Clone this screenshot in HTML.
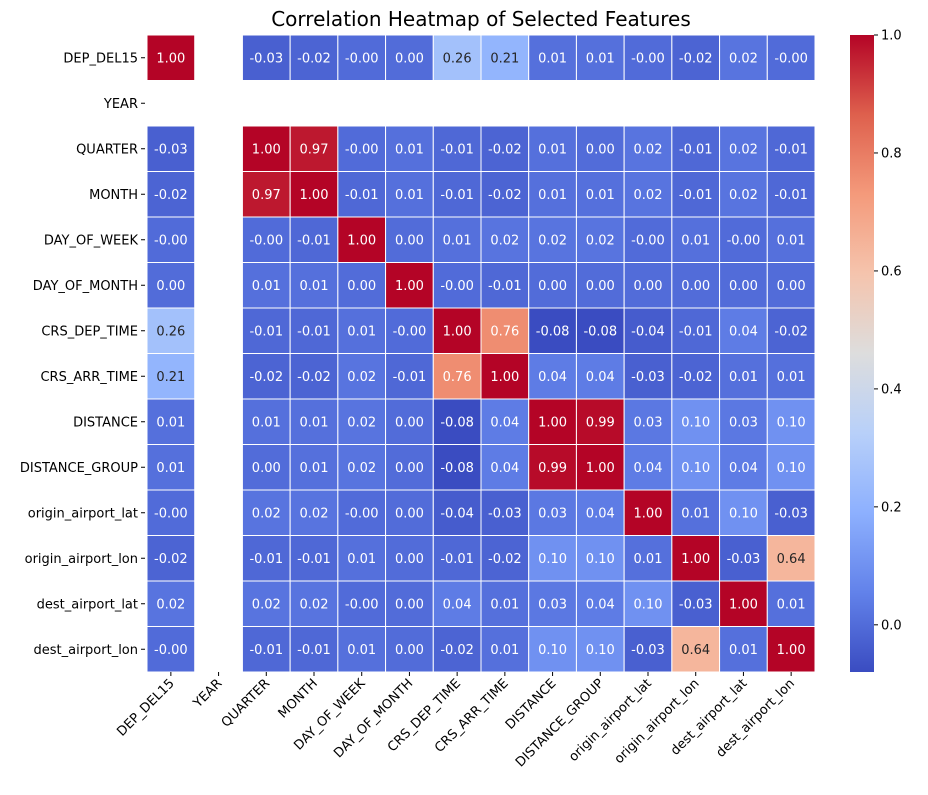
<!DOCTYPE html>
<html><head><meta charset="utf-8"><style>
body{margin:0;background:#fff;font-family:"Liberation Sans","DejaVu Sans",sans-serif;}
svg text{font-family:"DejaVu Sans","Liberation Sans",sans-serif;}
</style></head><body>
<svg id="chart" width="928" height="790" xmlns="http://www.w3.org/2000/svg">
<text x="481" y="26" font-size="20" text-anchor="middle">Correlation Heatmap of Selected Features</text>
<defs><linearGradient id="cg" x1="0" y1="1" x2="0" y2="0">
<stop offset="0" stop-color="rgb(58,76,193)"/><stop offset="0.125" stop-color="rgb(98,130,234)"/><stop offset="0.25" stop-color="rgb(141,176,254)"/><stop offset="0.375" stop-color="rgb(184,208,249)"/><stop offset="0.5" stop-color="rgb(221,221,221)"/><stop offset="0.625" stop-color="rgb(245,196,173)"/><stop offset="0.75" stop-color="rgb(244,154,123)"/><stop offset="0.875" stop-color="rgb(222,96,77)"/><stop offset="1" stop-color="rgb(180,4,38)"/>
</linearGradient></defs>
<g id="cells"></g>
<g id="ylabels"></g>
<g id="xlabels"></g>
<rect x="850" y="35" width="24" height="637" fill="url(#cg)"/>
<g id="cbticks"></g>
</svg>
<script>
const labels=["DEP_DEL15","YEAR","QUARTER","MONTH","DAY_OF_WEEK","DAY_OF_MONTH","CRS_DEP_TIME","CRS_ARR_TIME","DISTANCE","DISTANCE_GROUP","origin_airport_lat","origin_airport_lon","dest_airport_lat","dest_airport_lon"];
const N=null;
const values=[
[1.00,N,-0.03,-0.02,-0.002,0.00,0.26,0.21,0.01,0.01,-0.002,-0.02,0.02,-0.002],
[N,N,N,N,N,N,N,N,N,N,N,N,N,N],
[-0.03,N,1.00,0.97,-0.002,0.01,-0.01,-0.02,0.01,0.00,0.02,-0.01,0.02,-0.01],
[-0.02,N,0.97,1.00,-0.01,0.01,-0.01,-0.02,0.01,0.01,0.02,-0.01,0.02,-0.01],
[-0.002,N,-0.002,-0.01,1.00,0.00,0.01,0.02,0.02,0.02,-0.002,0.01,-0.002,0.01],
[0.00,N,0.01,0.01,0.00,1.00,-0.002,-0.01,0.00,0.00,0.00,0.00,0.00,0.00],
[0.26,N,-0.01,-0.01,0.01,-0.002,1.00,0.76,-0.08,-0.08,-0.04,-0.01,0.04,-0.02],
[0.21,N,-0.02,-0.02,0.02,-0.01,0.76,1.00,0.04,0.04,-0.03,-0.02,0.01,0.01],
[0.01,N,0.01,0.01,0.02,0.00,-0.08,0.04,1.00,0.99,0.03,0.10,0.03,0.10],
[0.01,N,0.00,0.01,0.02,0.00,-0.08,0.04,0.99,1.00,0.04,0.10,0.04,0.10],
[-0.002,N,0.02,0.02,-0.002,0.00,-0.04,-0.03,0.03,0.04,1.00,0.01,0.10,-0.03],
[-0.02,N,-0.01,-0.01,0.01,0.00,-0.01,-0.02,0.10,0.10,0.01,1.00,-0.03,0.64],
[0.02,N,0.02,0.02,-0.002,0.00,0.04,0.01,0.03,0.04,0.10,-0.03,1.00,0.01],
[-0.002,N,-0.01,-0.01,0.01,0.00,-0.02,0.01,0.10,0.10,-0.03,0.64,0.01,1.00]];
const cbTicks=[0.0,0.2,0.4,0.6,0.8,1.0];
const vmin=-0.08,vmax=1.0;
const X0=147,Y0=35,CW=(815-147)/14,CH=(672-35)/14;
const stops=[[0,58,76,193],[.125,98,130,234],[.25,141,176,254],[.375,184,208,249],[.5,221,221,221],[.625,245,196,173],[.75,244,154,123],[.875,222,96,77],[1,180,4,38]];
function cmap(v){let t=Math.max(0,Math.min(1,(v-vmin)/(vmax-vmin)));for(let i=1;i<stops.length;i++){if(t<=stops[i][0]){const a=stops[i-1],b=stops[i],f=(t-a[0])/(b[0]-a[0]);return [0,1,2].map(k=>Math.round(a[k+1]+(b[k+1]-a[k+1])*f));}}return [180,4,38];}
function lin(c){c/=255;return c<=0.03928?c/12.92:Math.pow((c+0.055)/1.055,2.4);}
const ns="http://www.w3.org/2000/svg";
function mk(tag,attrs,parent){const e=document.createElementNS(ns,tag);for(const k in attrs)e.setAttribute(k,attrs[k]);parent.appendChild(e);return e;}
const cells=document.getElementById('cells'),yl=document.getElementById('ylabels'),xl=document.getElementById('xlabels'),cb=document.getElementById('cbticks');
values.forEach((row,r)=>row.forEach((v,c)=>{if(v===null)return;const col=cmap(v);
const rc=mk('rect',{x:X0+c*CW,y:Y0+r*CH,width:CW,height:CH,fill:`rgb(${col})`,stroke:'#fff','stroke-width':1},cells);


const lum=0.2126*lin(col[0])+0.7152*lin(col[1])+0.0722*lin(col[2]);
let s=v.toFixed(2);
const tx=mk('text',{x:X0+(c+.5)*CW,y:Y0+(r+.5)*CH+4.5,'font-size':13,'text-anchor':'middle',fill:lum<0.408?'#fff':'#262626'},cells);tx.textContent=s;


}));
labels.forEach((l,i)=>{const y=Y0+(i+.5)*CH;
mk('line',{x1:X0-6,x2:X0-2,y1:y,y2:y,stroke:'#000'},yl);
const t=mk('text',{x:X0-9,y:y+4.5,'font-size':13,'text-anchor':'end'},yl);t.textContent=l;


const x=X0+(i+.5)*CW;
mk('line',{x1:x,x2:x,y1:672,y2:676,stroke:'#000'},xl);
const u=mk('text',{x:x+4,y:684,'font-size':13,'text-anchor':'end',transform:`rotate(-45 ${x+4} 684)`},xl);u.textContent=l;


});
cbTicks.forEach(v=>{const y=672-(v-vmin)/(vmax-vmin)*637;
mk('line',{x1:874,x2:878,y1:y,y2:y,stroke:'#000'},cb);
const t=mk('text',{x:881,y:y+4.5,'font-size':13},cb);t.textContent=v.toFixed(1);


});
</script>
</body></html>
